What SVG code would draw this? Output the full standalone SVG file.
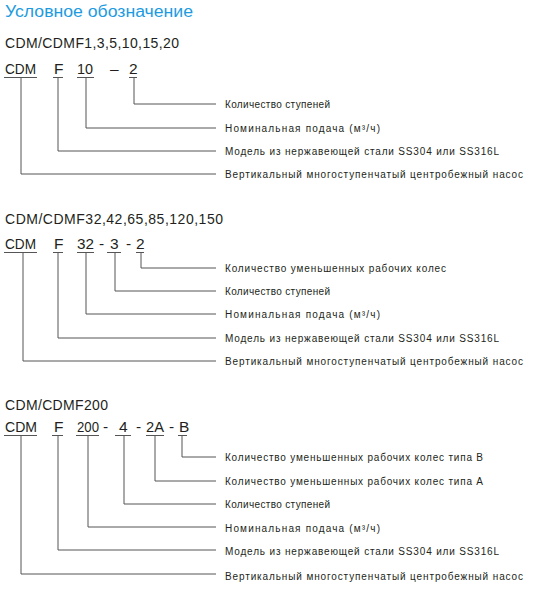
<svg xmlns="http://www.w3.org/2000/svg" width="539" height="593" viewBox="0 0 539 593">
<style>
  .title{font-family:"Liberation Sans",Arial,sans-serif;font-size:16px;fill:#1e9be0}
  .hdr{font-family:"Liberation Sans",Arial,sans-serif;font-size:14px;fill:#231f20}
  .code{font-family:"Liberation Sans",Arial,sans-serif;font-size:15.5px;fill:#231f20}
  .lbl{font-family:"Liberation Sans",Arial,sans-serif;font-size:10px;fill:#231f20}
  .ul{stroke:#555;stroke-width:1;fill:none}
  .con{stroke:#555;stroke-width:1;fill:none}
</style>
<rect width="539" height="593" fill="#fff"/>
<text class="title" x="5" y="16.5" textLength="188" lengthAdjust="spacingAndGlyphs">Условное обозначение</text>

<!-- Section 1 -->
<g id="sec1">
  <text class="hdr" x="5" y="48" textLength="174" lengthAdjust="spacing">CDM/CDMF1,3,5,10,15,20</text>
  <g id="s1-code">
    <text class="code" x="5" y="74" textLength="31" lengthAdjust="spacingAndGlyphs">CDM</text>
    <text class="code" x="54" y="74">F</text>
    <text class="code" x="77" y="74" textLength="16" lengthAdjust="spacingAndGlyphs">10</text>
    <text class="code" x="110" y="74">–</text>
    <text class="code" x="129" y="74">2</text>
    <path class="ul" d="M4 77.5H37M53 77.5H63M77 77.5H94M129 77.5H137"/>
  </g>
  <g id="s1-labels">
    <text class="lbl" x="225" y="108" textLength="105" lengthAdjust="spacing">Количество ступеней</text>
    <text class="lbl" x="225" y="132" textLength="155" lengthAdjust="spacing">Номинальная подача (м³/ч)</text>
    <text class="lbl" x="225" y="155" textLength="274" lengthAdjust="spacing">Модель из нержавеющей стали SS304 или SS316L</text>
    <text class="lbl" x="225" y="178" textLength="298" lengthAdjust="spacing">Вертикальный многоступенчатый центробежный насос</text>
  </g>
  <g id="s1-connectors">
    <path class="con" d="M134 77.5V104H216"/>
    <path class="con" d="M86 77.5V128H216"/>
    <path class="con" d="M58 77.5V151H216"/>
    <path class="con" d="M21 77.5V174H216"/>
  </g>
</g>

<!-- Section 2 -->
<g id="sec2">
  <text class="hdr" x="5" y="224" textLength="218" lengthAdjust="spacing">CDM/CDMF32,42,65,85,120,150</text>
  <g id="s2-code">
    <text class="code" x="5" y="249" textLength="31" lengthAdjust="spacingAndGlyphs">CDM</text>
    <text class="code" x="54" y="249">F</text>
    <text class="code" x="77" y="249" textLength="17" lengthAdjust="spacingAndGlyphs">32</text>
    <text class="code" x="99" y="249">-</text>
    <text class="code" x="110" y="249">3</text>
    <text class="code" x="126" y="249">-</text>
    <text class="code" x="136" y="249">2</text>
    <path class="ul" d="M4 252.5H37M53 252.5H63M77 252.5H94M107 252.5H121M136 252.5H144"/>
  </g>
  <g id="s2-labels">
    <text class="lbl" x="225" y="272" textLength="221" lengthAdjust="spacing">Количество уменьшенных рабочих колес</text>
    <text class="lbl" x="225" y="295" textLength="105" lengthAdjust="spacing">Количество ступеней</text>
    <text class="lbl" x="225" y="318" textLength="155" lengthAdjust="spacing">Номинальная подача (м³/ч)</text>
    <text class="lbl" x="225" y="342" textLength="274" lengthAdjust="spacing">Модель из нержавеющей стали SS304 или SS316L</text>
    <text class="lbl" x="225" y="365" textLength="298" lengthAdjust="spacing">Вертикальный многоступенчатый центробежный насос</text>
  </g>
  <g id="s2-connectors">
    <path class="con" d="M141 252.5V268H216"/>
    <path class="con" d="M115 252.5V291H216"/>
    <path class="con" d="M86 252.5V314H216"/>
    <path class="con" d="M58 252.5V338H216"/>
    <path class="con" d="M23 252.5V361H216"/>
  </g>
</g>

<!-- Section 3 -->
<g id="sec3">
  <text class="hdr" x="5" y="410" textLength="103" lengthAdjust="spacing">CDM/CDMF200</text>
  <g id="s3-code">
    <text class="code" x="5" y="432" textLength="32" lengthAdjust="spacingAndGlyphs">CDM</text>
    <text class="code" x="54" y="432">F</text>
    <text class="code" x="77" y="432" textLength="22" lengthAdjust="spacingAndGlyphs">200</text>
    <text class="code" x="103" y="432">-</text>
    <text class="code" x="119" y="432">4</text>
    <text class="code" x="136" y="432">-</text>
    <text class="code" x="146" y="432" textLength="18" lengthAdjust="spacingAndGlyphs">2A</text>
    <text class="code" x="169" y="432">-</text>
    <text class="code" x="179" y="432">B</text>
    <path class="ul" d="M4 435.5H37M52 435.5H63M76 435.5H99M115 435.5H131M146 435.5H164M178 435.5H187"/>
  </g>
  <g id="s3-labels">
    <text class="lbl" x="225" y="461" textLength="258" lengthAdjust="spacing">Количество уменьшенных рабочих колес типа B</text>
    <text class="lbl" x="225" y="485" textLength="258" lengthAdjust="spacing">Количество уменьшенных рабочих колес типа A</text>
    <text class="lbl" x="225" y="508" textLength="105" lengthAdjust="spacing">Количество ступеней</text>
    <text class="lbl" x="225" y="532" textLength="155" lengthAdjust="spacing">Номинальная подача (м³/ч)</text>
    <text class="lbl" x="225" y="555" textLength="274" lengthAdjust="spacing">Модель из нержавеющей стали SS304 или SS316L</text>
    <text class="lbl" x="225" y="580" textLength="298" lengthAdjust="spacing">Вертикальный многоступенчатый центробежный насос</text>
  </g>
  <g id="s3-connectors">
    <path class="con" d="M182 435.5V457H216"/>
    <path class="con" d="M155 435.5V481H216"/>
    <path class="con" d="M124 435.5V504H216"/>
    <path class="con" d="M88 435.5V527H216"/>
    <path class="con" d="M58 435.5V550H216"/>
    <path class="con" d="M21 435.5V574H216"/>
  </g>
</g>
</svg>
